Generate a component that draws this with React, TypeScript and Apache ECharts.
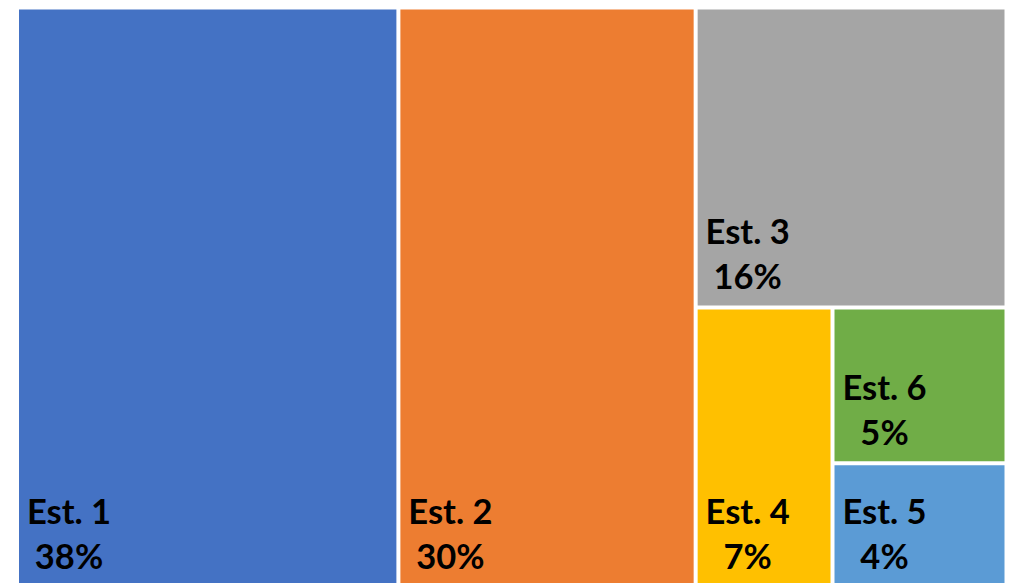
import React, { useEffect, useRef } from "react";
import * as echarts from "echarts";

// Leaves in drawing order (Est. 6 sits above Est. 5 in the reference)
const names = ["Est. 1", "Est. 2", "Est. 3", "Est. 4", "Est. 6", "Est. 5"];
// Shares in percent, estimated from the tile sizes (labels show them rounded)
const values = [38.49, 30.0, 16.22, 6.67, 4.72, 3.76];
const colors = ["#4472C4", "#ED7D31", "#A5A5A5", "#FFC000", "#70AD47", "#5B9BD5"];

const leaf = (i: number) => ({
  name: names[i],
  value: values[i],
  itemStyle: { color: colors[i] },
});
const sum = (items: { value: number }[]) => items.reduce((a, b) => a + b.value, 0);

function buildData() {
  const c = [leaf(4), leaf(5)];
  const groupC = { name: "g3", value: sum(c), children: c };
  const b = [leaf(3), groupC];
  const groupB = { name: "g2", value: sum(b), children: b };
  const a = [leaf(2), groupB];
  const groupA = { name: "g1", value: sum(a), children: a };
  return [leaf(0), leaf(1), groupA];
}

const gapStyle = { gapWidth: 4, borderWidth: 0, borderColor: "#ffffff" };

export default function App() {
  const ref = useRef<HTMLDivElement>(null);
  useEffect(() => {
    if (!ref.current) return;
    const chart = echarts.init(ref.current, null, { renderer: "svg" });
    chart.setOption({
      animation: false,
      backgroundColor: "#ffffff",
      series: [
        {
          type: "treemap",
          left: 19,
          top: 9.5,
          width: 985.5,
          height: 576,
          sort: false,
          squareRatio: 1,
          roam: false,
          nodeClick: false,
          breadcrumb: { show: false },
          leafDepth: null,
          visibleMin: 0,
          childrenVisibleMin: 0,
          emphasis: { disabled: true },
          itemStyle: gapStyle,
          levels: [
            { itemStyle: gapStyle },
            { itemStyle: gapStyle },
            { itemStyle: gapStyle },
            { itemStyle: gapStyle },
            { itemStyle: gapStyle },
          ],
          upperLabel: { show: false },
          label: {
            show: true,
            position: "insideBottomLeft",
            distance: 7.5,
            padding: 0,
            offset: [42.5, 0],
            align: "center",
            fontFamily: "Lato",
            fontWeight: "bold",
            fontSize: 34.5,
            lineHeight: 45,
            color: "#000000",
            formatter: (p: any) => `${p.name}\n${Math.round(p.value)}%`,
          },
          data: buildData(),
        },
      ],
    });
    return () => chart.dispose();
  }, []);
  return (
    <div
      ref={ref}
      style={{ position: "absolute", left: 0, top: 0, width: 1013, height: 583 }}
    />
  );
}
